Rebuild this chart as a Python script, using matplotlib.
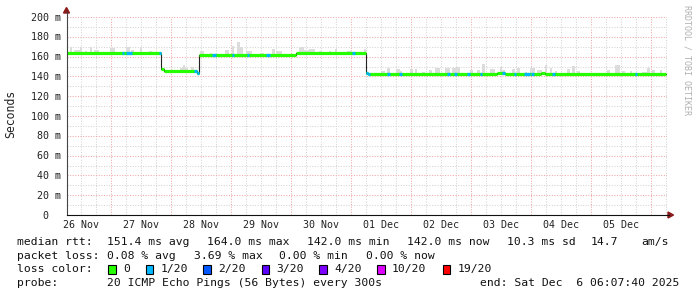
import numpy as np
import matplotlib
matplotlib.use("Agg")
import matplotlib.pyplot as plt
from matplotlib.patches import Rectangle, Polygon
from matplotlib.lines import Line2D

W, H = 697, 297

# time axis in hours since 26 Nov 00:00
t_start = 6.128   # 26 Nov 06:07:40
t_end = 246.128   # 06 Dec 06:07:40

day_labels = ['26 Nov', '27 Nov', '28 Nov', '29 Nov', '30 Nov',
              '01 Dec', '02 Dec', '03 Dec', '04 Dec', '05 Dec']

# median rtt in ms, as steps (value holds from each time to the next)
med_t = [6.13, 43.73, 44.93, 58.13, 59.13, 97.73, 125.73, 126.53,
         178.13, 181.33, 196.0, 197.33]
med_v = [164.0, 147.0, 145.5, 143.0, 162.0, 163.2, 143.0, 142.2,
         143.6, 142.2, 143.6, 142.2]

# intervals with 1/20 packet loss
loss_start = [28.13, 29.73, 43.2, 57.05, 64.13, 72.41, 78.13, 86.01, 120.13,
              125.73, 134.13, 139.05, 158.13, 161.05, 166.13, 171.33, 180.13,
              185.05, 189.21, 192.05, 200.13, 233.33]
loss_end = [29.05, 32.13, 43.73, 59.13, 66.01, 73.21, 79.21, 87.45, 121.45,
            127.33, 135.33, 140.13, 159.33, 162.13, 167.33, 172.13, 181.45,
            186.01, 191.61, 193.13, 201.33, 234.13]

# smoke: highest rtt of the pings in each interval, ms
smoke_start = [7.33, 8.93, 11.33, 13.33, 15.33, 16.93, 23.33, 29.73, 31.73, 35.33,
               38.93, 51.33, 52.53, 53.33, 55.73, 59.33, 63.33, 69.33, 72.13, 74.13,
               75.33, 77.73, 83.33, 88.13, 89.73, 98.93, 100.93, 102.93, 106.93, 110.93,
               113.33, 118.13, 124.93, 131.73, 134.13, 137.73, 139.33, 143.33, 145.33, 148.13,
               150.93, 153.33, 157.33, 160.13, 161.73, 167.33, 170.13, 172.13, 175.33, 179.33,
               180.13, 184.13, 186.13, 189.33, 191.33, 194.13, 197.33, 199.33, 201.33, 206.13,
               208.13, 210.13, 222.13, 225.33, 228.13, 231.33, 236.13, 238.13, 240.13, 243.33]
smoke_end = [8.13, 11.33, 12.13, 14.13, 16.13, 18.93, 25.33, 31.33, 32.93, 36.13,
             40.13, 52.53, 53.33, 54.53, 56.93, 60.93, 64.13, 70.93, 72.93, 75.33,
             76.53, 80.13, 84.93, 89.33, 92.13, 100.93, 102.93, 105.33, 108.13, 111.73,
             114.13, 120.13, 125.73, 133.33, 135.33, 139.33, 140.13, 144.53, 146.13, 149.33,
             152.13, 155.33, 159.33, 161.73, 163.33, 168.53, 171.33, 173.33, 177.33, 180.13,
             181.33, 185.33, 187.33, 190.13, 193.33, 196.13, 198.13, 200.13, 202.13, 207.33,
             209.33, 211.33, 223.33, 227.33, 229.33, 232.13, 238.13, 239.33, 241.33, 244.13]
smoke_top = [169.4, 166.7, 169.4, 165.6, 169.4, 166.7, 168.3, 169.4, 166.7, 169.4,
             165.6, 148.8, 152.0, 148.8, 150.0, 166.0, 164.0, 166.7, 170.7, 175.0,
             169.4, 165.3, 163.3, 167.7, 165.6, 169.4, 166.7, 167.7, 165.3, 165.3,
             167.7, 166.0, 167.4, 145.8, 148.8, 147.5, 145.8, 147.5, 147.5, 144.8,
             146.5, 148.8, 148.8, 148.8, 149.8, 146.5, 146.5, 152.5, 147.5, 149.8,
             146.5, 147.5, 148.8, 144.8, 148.8, 146.5, 151.5, 148.8, 145.8, 147.5,
             150.5, 145.5, 146.5, 151.5, 145.5, 145.5, 144.8, 148.8, 146.5, 146.5]

loss_names = ['0', '1/20', '2/20', '3/20', '4/20', '10/20', '19/20']
loss_colors = ['#26ff00', '#00b8ff', '#0059ff', '#5e00ff', '#7e00ff', '#dd00ff', '#ff0000']

FONT = 'DejaVu Sans Mono'


def level(t):
    i = np.searchsorted(med_t, t, side='right') - 1
    return med_v[max(i, 0)]


def fx(x):
    return x / W


def fy(y):
    return 1 - y / H


fig = plt.figure(figsize=(W / 100, H / 100), dpi=100)
fig.patch.set_facecolor('white')
ax = fig.add_axes([fx(66.5), fy(215), 600 / W, 198 / H])
ax.set_xlim(t_start, t_end)
ax.set_ylim(0, 200)
ax.set_facecolor('white')
for s in ax.spines.values():
    s.set_visible(False)
ax.set_xticks([])
ax.set_yticks([])

# grid: minor every 6 h / 10 ms, major at midnight / 20 ms
dots = (0, (1, 1.5))
for h in np.arange(6, t_end, 6):
    if h <= t_start:
        continue
    if h % 24 == 0:
        ax.axvline(h, color='#f0a8a8', lw=0.75, ls=dots, zorder=1)
    else:
        ax.axvline(h, color='#d4d4d4', lw=0.75, ls=dots, zorder=1)
for v in range(10, 201, 10):
    c = '#f0a8a8' if v % 20 == 0 else '#d4d4d4'
    ax.axhline(v, color=c, lw=0.75, ls=dots, zorder=1)

# smoke
for s, e, top in zip(smoke_start, smoke_end, smoke_top):
    base = level(s)
    if top > base:
        ax.fill_between([s, e], base, top, color='#dcdcdc', lw=0, zorder=2)

# median: thin black step, coloured by loss
ax.step(med_t + [t_end], med_v + [med_v[-1]], where='post',
        color='#222222', lw=0.8, zorder=3)
ax.hlines(med_v, med_t, med_t[1:] + [t_end], color=loss_colors[0],
          lw=2.3, zorder=4)
for s, e in zip(loss_start, loss_end):
    pts = [s] + [t for t in med_t if s < t < e] + [e]
    for a, b in zip(pts[:-1], pts[1:]):
        ax.hlines(level(a), a, b, color=loss_colors[1], lw=2.3, zorder=5)

# y labels
for v in range(0, 201, 20):
    lab = f'{v:>3d} m' if v > 0 else '  0'
    ax.annotate(lab, xy=(0, v), xycoords=('axes fraction', 'data'),
                xytext=(-35.5, -3.6), textcoords='offset pixels',
                ha='left', va='baseline', fontsize=7.2, family=FONT,
                color='#222222', annotation_clip=False)

# day labels centred at noon
for i, lab in enumerate(day_labels):
    ax.annotate(lab, xy=(12 + 24 * i, 0), xycoords=('data', 'axes fraction'),
                xytext=(0, -13.3), textcoords='offset pixels',
                ha='center', va='baseline', fontsize=7.2, family=FONT,
                color='#222222', annotation_clip=False)

# axis lines with arrows
arrow_c = '#8b1a1a'
fig.add_artist(Line2D([fx(66.5), fx(66.5)], [fy(215), fy(12)], color='#444444', lw=0.8))
fig.add_artist(Line2D([fx(66.5), fx(669)], [fy(215), fy(215)], color='#111111', lw=0.8))
fig.add_artist(Polygon([(fx(63.5), fy(13)), (fx(69.5), fy(13)), (fx(66.5), fy(7.5))],
                       closed=True, color=arrow_c, transform=fig.transFigure))
fig.add_artist(Polygon([(fx(668), fy(212)), (fx(668), fy(218)), (fx(673.5), fy(215))],
                       closed=True, color=arrow_c, transform=fig.transFigure))

fig.text(fx(11), fy(113.5), 'Seconds', rotation=90, ha='center', va='center',
         fontsize=8.3, family=FONT, color='#222222')
fig.text(fx(687.5), fy(5), 'RRDTOOL / TOBI OETIKER', rotation=270, ha='center',
         va='top', fontsize=6, family=FONT, color='#b0b0b0')

# legend
lf = dict(fontsize=8.2, family=FONT, color='#111111', va='baseline', ha='left')
row1 = [(16.7, 'median rtt:'), (107.3, '151.4 ms avg'), (207.3, '164.0 ms max'),
        (307.3, '142.0 ms min'), (407.3, '142.0 ms now'), (507.3, '10.3 ms sd'),
        (591.0, '14.7'), (641.5, 'am/s')]
row2 = [(16.7, 'packet loss:'), (107.3, '0.08 % avg'), (194.0, '3.69 % max'),
        (279.0, '0.00 % min'), (365.7, '0.00 % now')]
row4 = [(16.7, 'probe:'), (107.3, '20 ICMP Echo Pings (56 Bytes) every 300s'),
        (479.5, 'end: Sat Dec  6 06:07:40 2025')]
for y, row in ((245, row1), (258.7, row2), (286.2, row4)):
    for x, s in row:
        fig.text(fx(x), fy(y), s, **lf)

fig.text(fx(16.7), fy(272.2), 'loss color:', **lf)
box_x = [108.3, 145.7, 203.3, 261.7, 319.4, 377.1, 442.7]
for bx, name, col in zip(box_x, loss_names, loss_colors):
    fig.add_artist(Rectangle((fx(bx), fy(273.5)), 7.7 / W, 8.3 / H,
                             facecolor=col, edgecolor='black', lw=0.8,
                             transform=fig.transFigure))
    fig.text(fx(bx + 15), fy(272.2), name, **lf)

fig.savefig('out.png', dpi=100, facecolor='white')
